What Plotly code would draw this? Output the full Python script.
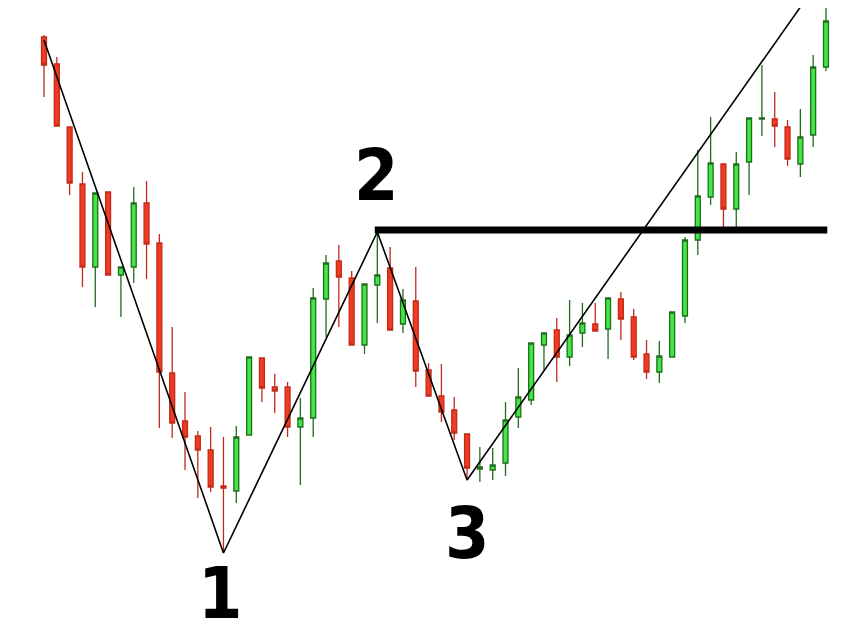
import plotly.graph_objects as go

# candle data, one entry per bar (index 1..62)
idx = list(range(1, 63))
opens = [601, 574, 511, 454, 371, 446, 363, 371, 435, 395,
         265, 217, 202, 188, 152, 147, 203, 280, 251, 251,
         211, 220, 339, 377, 360, 293, 353, 370, 314, 337,
         268, 242, 228, 204, 169, 168, 175, 221, 238, 293,
         308, 281, 305, 314, 309, 339, 321, 284, 266, 281,
         322, 398, 441, 474, 429, 476, 519, 519, 511, 474,
         503, 571]
highs = [603, 581, 511, 466, 445, 446, 371, 451, 457, 404,
         311, 246, 207, 211, 201, 212, 281, 280, 264, 256,
         240, 350, 383, 393, 367, 354, 406, 391, 349, 371,
         275, 274, 241, 204, 191, 190, 236, 270, 295, 305,
         320, 338, 335, 335, 340, 346, 329, 298, 297, 326,
         401, 488, 521, 474, 486, 520, 573, 546, 518, 529,
         583, 631]
lows = [541, 512, 443, 351, 331, 363, 321, 355, 359, 210,
        200, 168, 140, 146, 85, 135, 203, 236, 225, 201,
        153, 201, 301, 311, 293, 284, 315, 308, 305, 251,
        242, 216, 198, 158, 156, 158, 162, 210, 233, 268,
        256, 272, 291, 307, 279, 298, 278, 259, 255, 281,
        315, 383, 433, 410, 411, 443, 502, 491, 472, 461,
        491, 567]
closes = [573, 512, 455, 371, 445, 363, 371, 435, 394, 266,
          215, 201, 188, 151, 150, 201, 281, 250, 247, 211,
          220, 340, 375, 361, 293, 354, 363, 308, 338, 267,
          242, 226, 205, 170, 171, 173, 218, 241, 295, 305,
          281, 303, 315, 307, 340, 319, 281, 266, 282, 326,
          398, 442, 475, 429, 474, 520, 520, 512, 479, 501,
          571, 617]

# pattern pivots: start, 1, 2, 3, breakout trend end
pivot_x = [1, 15, 27, 34, 60.5]
pivot_y = [598, 85, 406, 158, 640]

# neckline through point 2
neck_x = [26.8, 62.1]
neck_y = [408, 408]

# labels
label_text = ["1", "2", "3"]
label_x = [14.7, 26.9, 34.0]
label_y = [45, 463, 105]

fig = go.Figure()
fig.add_trace(go.Candlestick(
    x=idx, open=opens, high=highs, low=lows, close=closes,
    increasing=dict(line=dict(color="#1f6e1f", width=1.3), fillcolor="#42e842"),
    decreasing=dict(line=dict(color="#c42a1a", width=1.3), fillcolor="#ee3b22"),
    whiskerwidth=0,
    hoverinfo="skip",
))
fig.add_trace(go.Scatter(x=pivot_x, y=pivot_y, mode="lines",
                         line=dict(color="black", width=1.6), hoverinfo="skip"))
fig.add_trace(go.Scatter(x=neck_x, y=neck_y, mode="lines",
                         line=dict(color="black", width=7), hoverinfo="skip"))

for t, x, y in zip(label_text, label_x, label_y):
    fig.add_annotation(x=x, y=y, text=t, showarrow=False, height=58, borderpad=0,
                       font=dict(family="DejaVu Sans Condensed, DejaVu Sans", size=71,
                                 color="black", weight="bold"))

# page body has an 8px margin, so the figure is 8px smaller each way
fig.update_layout(
    width=840, height=630,
    margin=dict(l=0, r=0, t=0, b=0),
    paper_bgcolor="white", plot_bgcolor="white",
    showlegend=False,
    boxgap=0.45,
    xaxis=dict(range=[-1.808, 63.716], visible=False, rangeslider=dict(visible=False)),
    yaxis=dict(range=[0, 630], visible=False),
)

fig.write_html("out.html")
